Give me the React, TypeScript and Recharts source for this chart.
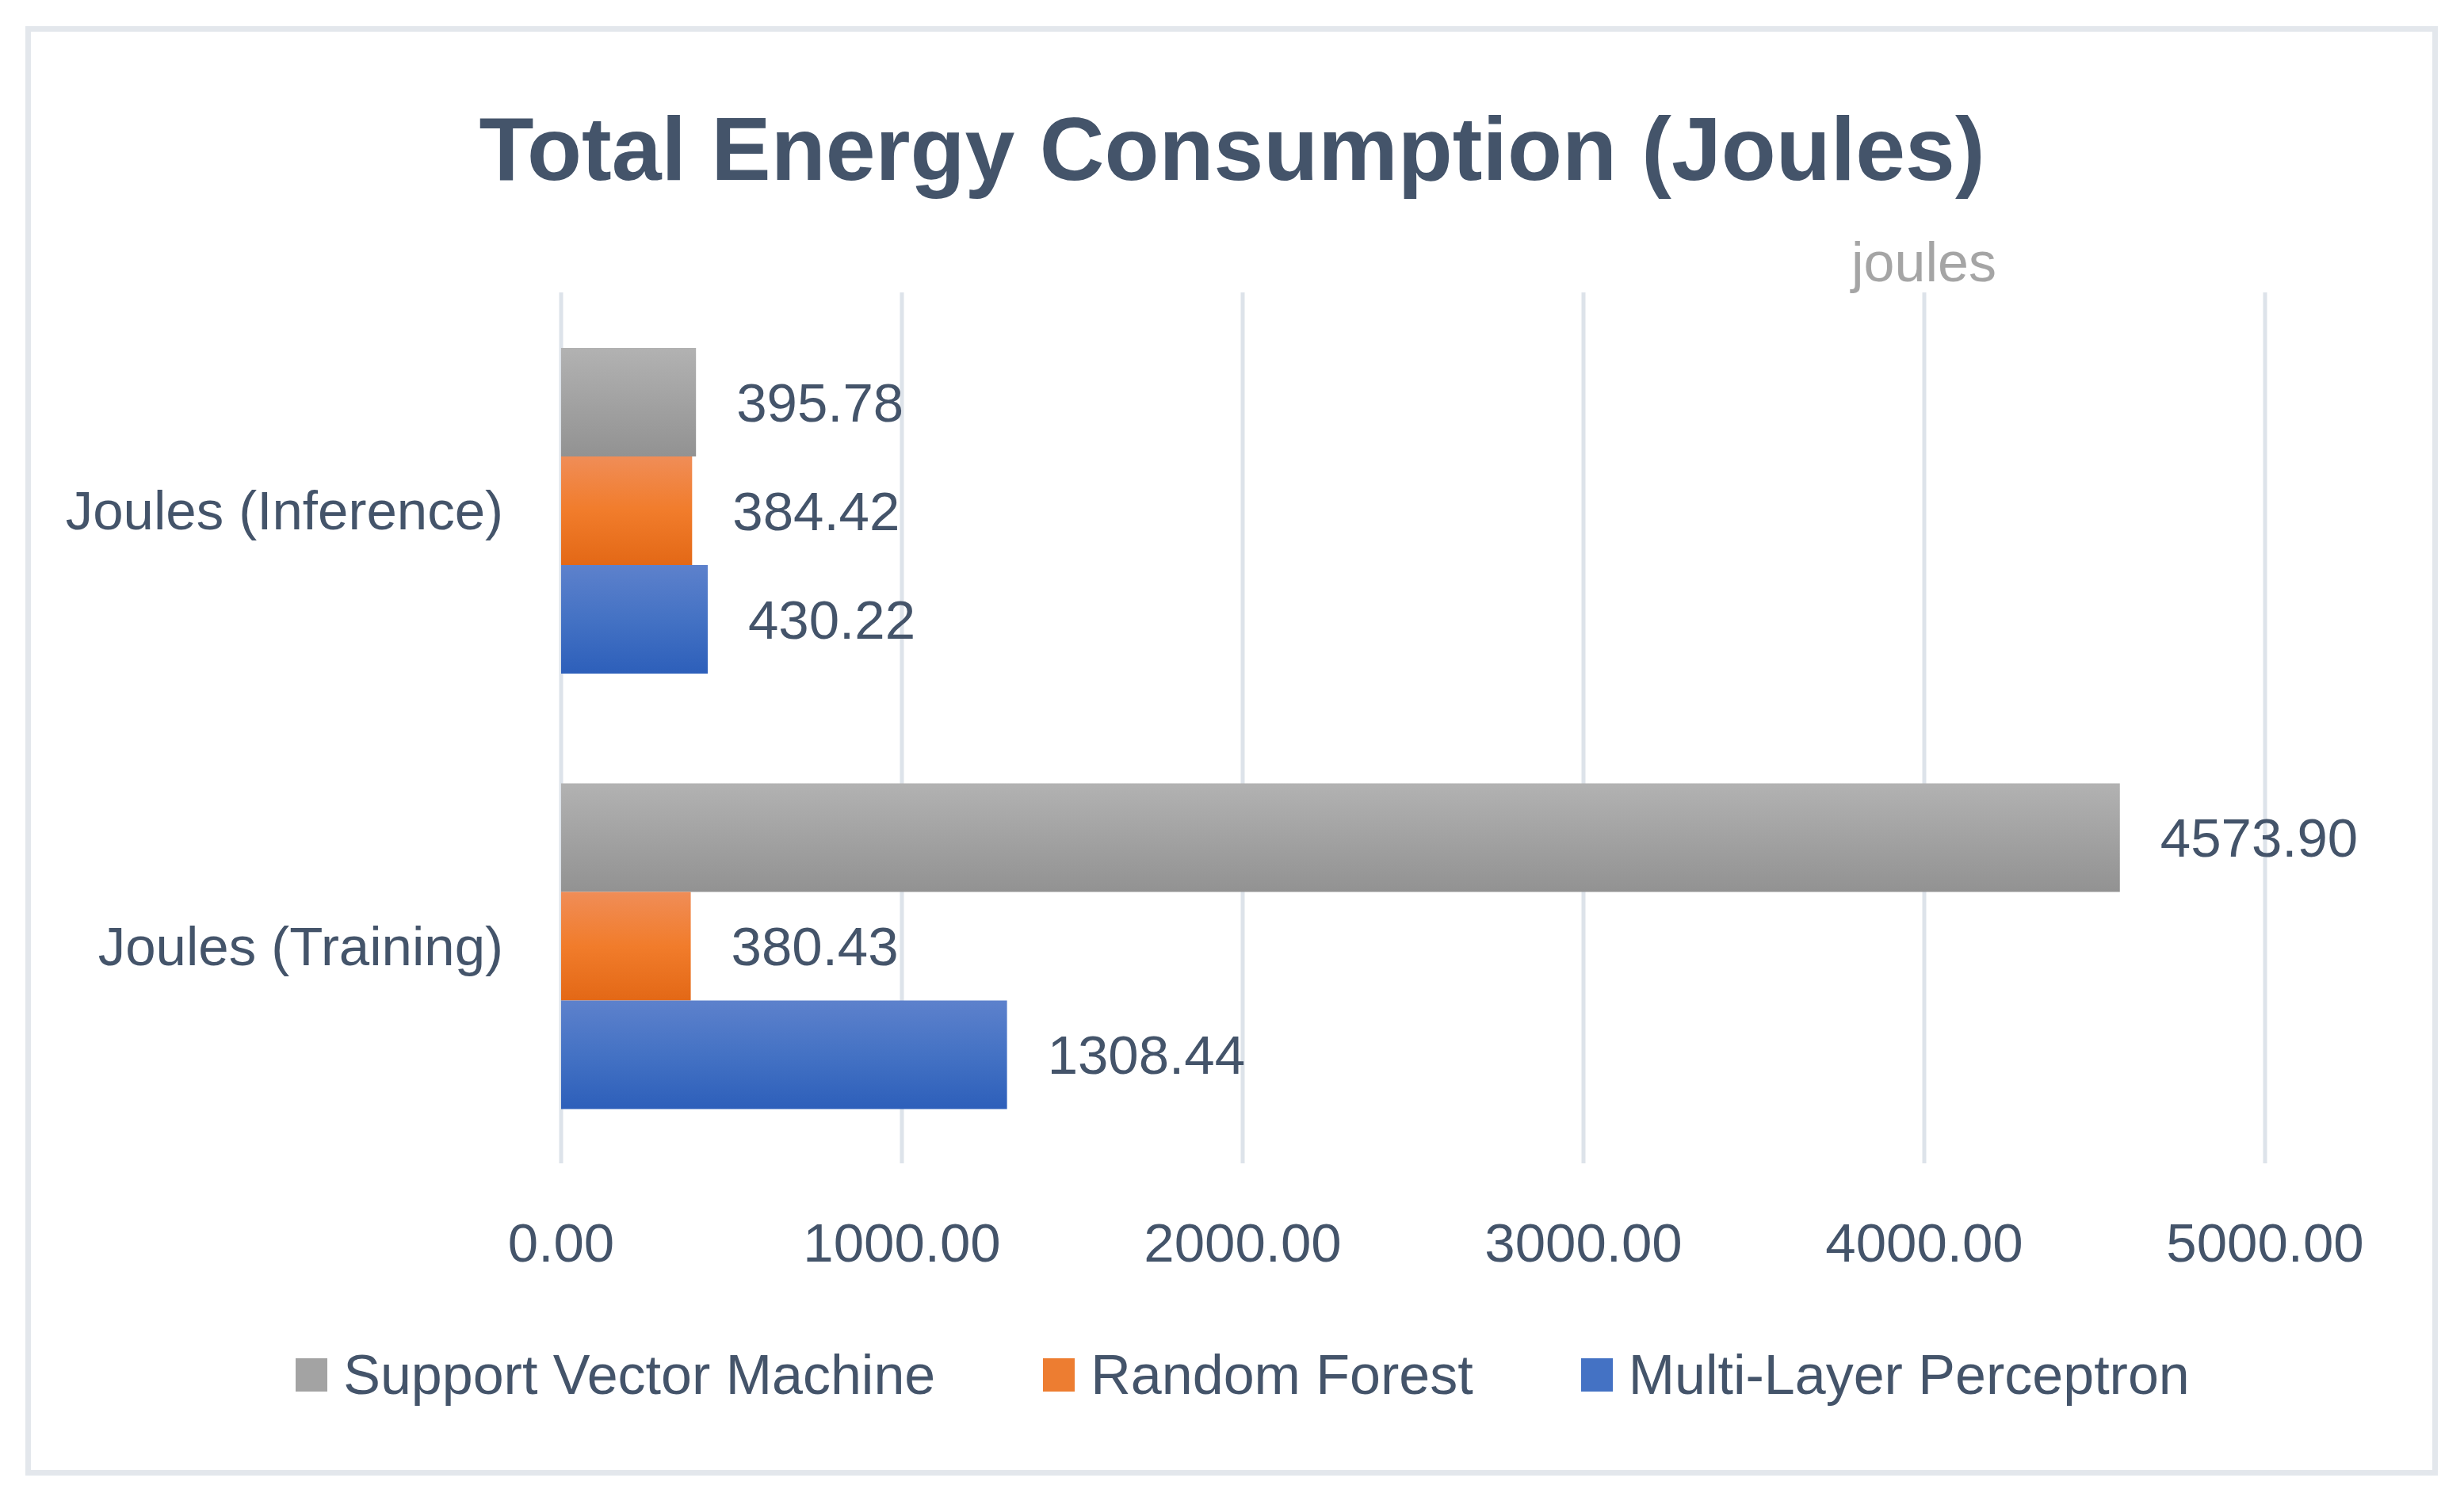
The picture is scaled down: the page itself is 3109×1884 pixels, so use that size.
import { BarChart, Bar, XAxis, YAxis, CartesianGrid, Legend, LabelList } from 'recharts';

const categories = ['Joules (Inference)', 'Joules (Training)'];
const svmValues = [395.78, 4573.9];
const rfValues = [384.42, 380.43];
const mlpValues = [430.22, 1308.44];
const xTicks = [0, 1000, 2000, 3000, 4000, 5000];

const seriesNames = ['Support Vector Machine', 'Random Forest', 'Multi-Layer Perceptron'];
const seriesKeys = ['svm', 'rf', 'mlp'];
const legendSwatch = ['#a3a3a3', '#ed7d31', '#4472c4'];

const data = categories.map((name, i) => ({
  name,
  svm: svmValues[i],
  rf: rfValues[i],
  mlp: mlpValues[i],
}));

const TEXT = '#44546a';
const FONT = '"Liberation Sans", Arial, sans-serif';

function LegendRow() {
  return (
    <div style={{ display: 'flex', justifyContent: 'center', alignItems: 'center', paddingLeft: 27, height: 90 }}>
      {seriesNames.map((n, i) => (
        <div key={n} style={{ display: 'flex', alignItems: 'center', marginRight: i < seriesNames.length - 1 ? 136 : 0 }}>
          <div style={{ width: 40, height: 42, background: legendSwatch[i], marginRight: 20 }} />
          <span style={{ fontSize: 70, color: TEXT, fontFamily: FONT, lineHeight: 1 }}>{n}</span>
        </div>
      ))}
    </div>
  );
}

export default function App() {
  return (
    <div style={{ position: 'absolute', left: 0, top: 0, width: 3109, height: 1884, background: '#fff', fontFamily: FONT }}>
      <div
        style={{
          position: 'absolute', left: 32, top: 33, width: 3044, height: 1829,
          border: '7px solid #e3e7ec', boxSizing: 'border-box',
        }}
      />
      <div
        style={{
          position: 'absolute', left: 0, top: 132, width: 3109, textAlign: 'center',
          fontSize: 113, fontWeight: 'bold', color: TEXT, lineHeight: 1,
        }}
      >
        Total Energy Consumption (Joules)
      </div>
      <div style={{ position: 'absolute', left: 2336, top: 296, fontSize: 70, color: '#a5a5a5', lineHeight: 1 }}>
        joules
      </div>
      <div style={{ position: 'absolute', left: 0, top: 0 }}>
        <BarChart
          width={3109}
          height={1884}
          data={data}
          layout="vertical"
          margin={{ top: 369, right: 251, bottom: 296, left: 0 }}
          barCategoryGap={70}
          barGap={0}
        >
          <defs>
            <linearGradient id="gSvm" x1="0" y1="0" x2="0" y2="1">
              <stop offset="0%" stopColor="#b2b2b2" />
              <stop offset="100%" stopColor="#929292" />
            </linearGradient>
            <linearGradient id="gRf" x1="0" y1="0" x2="0" y2="1">
              <stop offset="0%" stopColor="#f08d57" />
              <stop offset="50%" stopColor="#f17c2b" />
              <stop offset="100%" stopColor="#e36816" />
            </linearGradient>
            <linearGradient id="gMlp" x1="0" y1="0" x2="0" y2="1">
              <stop offset="0%" stopColor="#5d81cc" />
              <stop offset="50%" stopColor="#4472c4" />
              <stop offset="100%" stopColor="#2d5fba" />
            </linearGradient>
          </defs>
          <CartesianGrid horizontal={false} stroke="#dde3ea" strokeWidth={5} />
          <XAxis
            type="number"
            domain={[0, 5000]}
            ticks={xTicks}
            tickFormatter={(v: number) => v.toFixed(2)}
            axisLine={false}
            tickLine={false}
            tickSize={0}
            tickMargin={75}
            height={120}
            tick={{ fontSize: 69, fill: TEXT }}
            interval={0}
          />
          <YAxis
            type="category"
            dataKey="name"
            width={708}
            axisLine={false}
            tickLine={false}
            tickSize={0}
            tickMargin={73}
            tick={{ fontSize: 69, fill: TEXT }}
          />
          <Legend
            layout="horizontal"
            verticalAlign="middle"
            align="center"
            wrapperStyle={{ top: 1690, left: 0, width: 3109, bottom: 'auto' }}
            content={() => <LegendRow />}
          />
          {seriesKeys.map((k, i) => (
            <Bar
              key={k}
              dataKey={k}
              name={seriesNames[i]}
              fill={`url(#${['gSvm', 'gRf', 'gMlp'][i]})`}
              isAnimationActive={false}
            >
              <LabelList
                dataKey={k}
                position="right"
                offset={51}
                formatter={(v: number) => v.toFixed(2)}
                style={{ fontSize: 69, fill: TEXT }}
              />
            </Bar>
          ))}
        </BarChart>
      </div>
    </div>
  );
}
